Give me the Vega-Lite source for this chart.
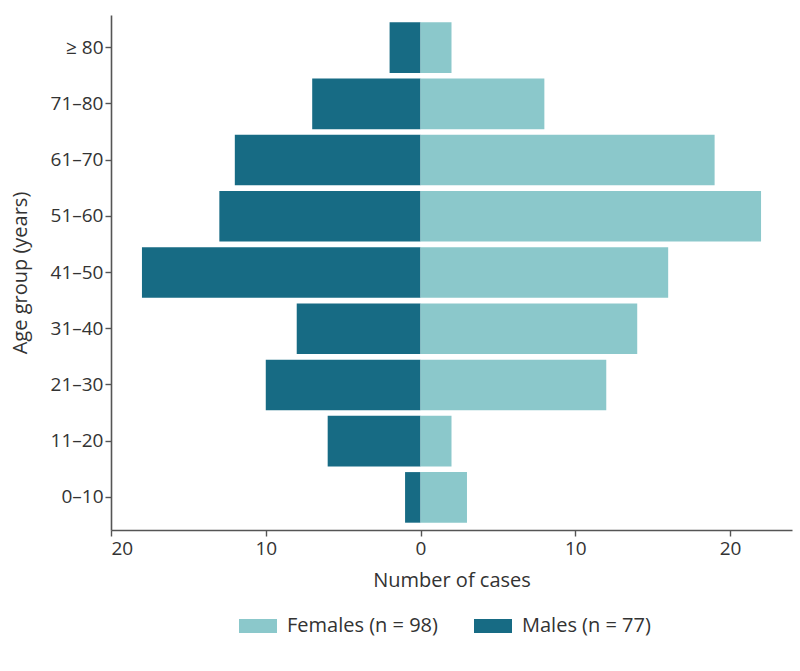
{
  "$schema": "https://vega.github.io/schema/vega-lite/v6.json",
  "width": 681,
  "height": 515,
  "autosize": {"type": "none"},
  "padding": {"left": 111, "top": 15, "right": 8, "bottom": 141},
  "background": "white",
  "config": {
    "view": {"stroke": null},
    "font": "Open Sans",
    "axis": {
      "domainColor": "#555555",
      "domainWidth": 1.6,
      "tickColor": "#555555",
      "tickWidth": 1.4,
      "tickSize": 6,
      "labelColor": "#333333",
      "labelFontSize": 19,
      "labelFont": "Open Sans",
      "titleFont": "Open Sans",
      "titleColor": "#333333",
      "titleFontSize": 20,
      "titleFontWeight": "normal",
      "grid": false
    }
  },
  "data": {
    "values": [
      {"age": "0–10", "sex": "Males (n = 77)", "count": 1},
      {"age": "11–20", "sex": "Males (n = 77)", "count": 6},
      {"age": "21–30", "sex": "Males (n = 77)", "count": 10},
      {"age": "31–40", "sex": "Males (n = 77)", "count": 8},
      {"age": "41–50", "sex": "Males (n = 77)", "count": 18},
      {"age": "51–60", "sex": "Males (n = 77)", "count": 13},
      {"age": "61–70", "sex": "Males (n = 77)", "count": 12},
      {"age": "71–80", "sex": "Males (n = 77)", "count": 7},
      {"age": "≥ 80", "sex": "Males (n = 77)", "count": 2},
      {"age": "0–10", "sex": "Females (n = 98)", "count": 3},
      {"age": "11–20", "sex": "Females (n = 98)", "count": 2},
      {"age": "21–30", "sex": "Females (n = 98)", "count": 12},
      {"age": "31–40", "sex": "Females (n = 98)", "count": 14},
      {"age": "41–50", "sex": "Females (n = 98)", "count": 16},
      {"age": "51–60", "sex": "Females (n = 98)", "count": 22},
      {"age": "61–70", "sex": "Females (n = 98)", "count": 19},
      {"age": "71–80", "sex": "Females (n = 98)", "count": 8},
      {"age": "≥ 80", "sex": "Females (n = 98)", "count": 2}
    ]
  },
  "transform": [
    {"calculate": "indexof(datum.sex, 'Males') == 0 ? -datum.count : datum.count", "as": "signed"}
  ],
  "mark": {"type": "bar"},
  "encoding": {
    "y": {
      "field": "age",
      "type": "nominal",
      "sort": ["≥ 80", "71–80", "61–70", "51–60", "41–50", "31–40", "21–30", "11–20", "0–10"],
      "title": "Age group (years)",
      "scale": {"paddingInner": 0.1, "paddingOuter": 0.13},
      "axis": {"labelPadding": 2, "titlePadding": 20}
    },
    "x": {
      "field": "signed",
      "type": "quantitative",
      "title": "Number of cases",
      "scale": {"domain": [-20, 24], "nice": false, "zero": false},
      "axis": {
        "values": [-20, -10, 0, 10, 20],
        "labelExpr": "abs(datum.value)",
        "labelPadding": 3,
        "titlePadding": 12
      }
    },
    "color": {
      "field": "sex",
      "type": "nominal",
      "title": null,
      "scale": {
        "domain": ["Females (n = 98)", "Males (n = 77)"],
        "range": ["#8bc8cb", "#176b84"]
      },
      "legend": {
        "orient": "none",
        "direction": "horizontal",
        "legendX": 127,
        "legendY": 591,
        "symbolType": "M-1,-0.37H1V0.37H-1Z",
        "symbolSize": 1444,
        "symbolOpacity": 1,
        "labelFontSize": 20,
        "labelColor": "#333333",
        "labelFont": "Open Sans",
        "labelOffset": 9,
        "columnPadding": 35
      }
    }
  }
}
